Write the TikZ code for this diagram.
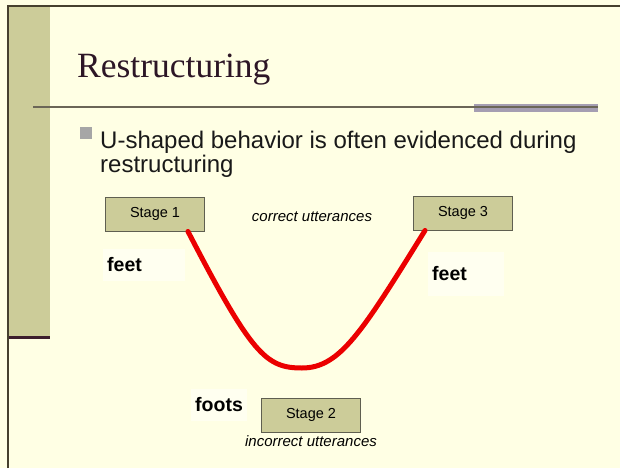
\documentclass[tikz,border=0pt]{standalone}
\usepackage{fontspec}
\setmainfont{Liberation Serif}
\setsansfont{Liberation Sans}
\usepackage{tikz}
\usetikzlibrary{calc}
\definecolor{slidebg}{RGB}{255,255,228}
\definecolor{olive}{RGB}{204,204,153}
\definecolor{frame}{RGB}{70,64,45}
\definecolor{stripeend}{RGB}{60,30,45}
\definecolor{titleink}{RGB}{45,22,38}
\definecolor{barcol}{RGB}{165,158,178}
\definecolor{boxline}{RGB}{95,95,80}
\definecolor{curvered}{RGB}{235,0,0}
\definecolor{paper}{RGB}{255,255,240}

\begin{document}
\begin{tikzpicture}[x=1pt, y=-1pt,
    stagebox/.style={draw=boxline, fill=olive, line width=0.9pt,
      minimum width=99pt, minimum height=34pt, inner sep=0pt,
      font=\sffamily\fontsize{14.5}{16}\selectfont},
    note/.style={font=\sffamily\itshape\fontsize{15}{17}\selectfont, inner sep=0pt},
    word/.style={fill=paper, font=\sffamily\bfseries\fontsize{19.5}{22}\selectfont,
      inner xsep=4pt, inner ysep=9pt, anchor=west, align=left},
    ucurve/.style={draw=curvered, line width=5pt, line cap=round}]
  % Slide
  \useasboundingbox (0,0) rectangle (620,468);
  \fill[slidebg] (0,0) rectangle (620,468);
  \fill[olive] (8,7) rectangle (50,337);
  \draw[line width=3pt, stripeend] (8,337) -- (50,337);
  \draw[line width=1.5pt, frame] (8,468) -- (8,6) -- (620,6);

  % Title
  \node[anchor=base west, inner sep=0pt, text=titleink,
    font=\fontsize{35.5}{40}\selectfont] (title) at (77,78) {Restructuring};
  \fill[barcol] (474,104) rectangle (598,112);
  \draw[line width=1.5pt, frame!80] (33,107) -- (598,107);

  % Bullet
  \fill[black!35] (80,127) rectangle (92,139);
  \node[anchor=base west, inner sep=0pt, text=black!90,
    font=\sffamily\fontsize{24}{28}\selectfont] (line1) at (100,148)
    {U-shaped behavior is often evidenced during};
  \node[anchor=base west, inner sep=0pt, text=black!90,
    font=\sffamily\fontsize{24}{28}\selectfont] (line2) at (100,172)
    {restructuring};

  % Stages
  \node[stagebox] (stage1) at (155,214) {Stage 1};
  \node[stagebox] (stage3) at (463,213) {Stage 3};
  \node[stagebox] (stage2) at (311,415) {Stage 2};
  \node[note] (correct) at (312,217) {correct utterances};
  \node[note] (incorrect) at (311,441) {incorrect utterances};

  % Words
  \node[word, text width=74pt] (feetA) at (103,265) {feet};
  \node[word, text width=68pt, minimum height=44pt] (feetB) at (428,274) {feet};
  \node[word] (foots) at (191,405) {foots};

  % U curve
  \coordinate (low) at (302,368);
  \draw[ucurve] ($(stage1.south west)!0.83!(stage1.south east)$)
    .. controls (252,355) and (266,368) .. (low)
    .. controls (340,368) and (362,332) .. ($(stage3.south west)!0.12!(stage3.south east)$);
\end{tikzpicture}
\end{document}
